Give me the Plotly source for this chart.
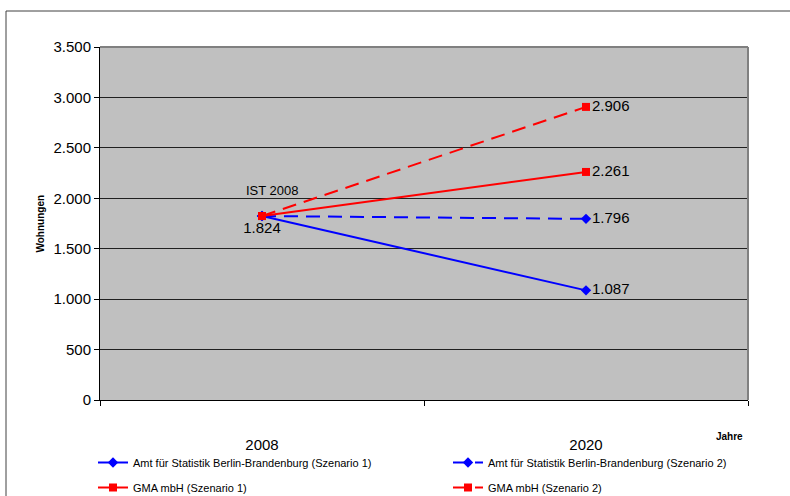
import plotly.graph_objects as go

years = ["2008", "2020"]
amt_s1 = [1824, 1087]
amt_s2 = [1824, 1796]
gma_s1 = [1824, 2261]
gma_s2 = [1824, 2906]
y_ticks = [0, 500, 1000, 1500, 2000, 2500, 3000, 3500]

FONT = "Arial, Liberation Sans, sans-serif"
BLUE = "#0000FF"
RED = "#FF0000"

W, H = 790, 496
L, R, T, B = 100, 42, 47, 96
PW, PH = W - L - R, H - T - B


def px_x(px):
    return (px - L) / PW


def px_y(py):
    return (H - B - py) / PH


def fmt(v):
    return f"{v:,}".replace(",", ".")


fig = go.Figure()

fig.add_trace(go.Scatter(
    x=years, y=amt_s1, mode="lines+markers+text",
    name="Amt für Statistik Berlin-Brandenburg (Szenario 1)",
    line=dict(color=BLUE, width=2),
    marker=dict(symbol="diamond", size=8, color=BLUE),
    text=["", fmt(amt_s1[1])], textposition="middle right",
    textfont=dict(family=FONT, size=15, color="black"),
    legend="legend", legendgroup="a1",
))
fig.add_trace(go.Scatter(
    x=years, y=amt_s2, mode="lines+markers+text",
    name="Amt für Statistik Berlin-Brandenburg (Szenario 2)",
    line=dict(color=BLUE, width=2, dash="14px,8px"),
    marker=dict(symbol="diamond", size=8, color=BLUE),
    text=["", fmt(amt_s2[1])], textposition="middle right",
    textfont=dict(family=FONT, size=15, color="black"),
    legend="legend2", legendgroup="a2",
))
fig.add_trace(go.Scatter(
    x=years, y=gma_s1, mode="lines+markers+text",
    name="GMA mbH (Szenario 1)",
    line=dict(color=RED, width=2),
    marker=dict(symbol="square", size=8, color=RED),
    text=[fmt(gma_s1[0]), fmt(gma_s1[1])],
    textposition=["bottom center", "middle right"],
    textfont=dict(family=FONT, size=15, color="black"),
    legend="legend", legendgroup="g1",
))
fig.add_trace(go.Scatter(
    x=years, y=gma_s2, mode="lines+markers+text",
    name="GMA mbH (Szenario 2)",
    line=dict(color=RED, width=2, dash="14px,8px"),
    marker=dict(symbol="square", size=8, color=RED),
    text=["", fmt(gma_s2[1])], textposition="middle right",
    textfont=dict(family=FONT, size=15, color="black"),
    legend="legend2", legendgroup="g2",
))

legend_common = dict(
    orientation="v", yanchor="top", xanchor="left",
    font=dict(family=FONT, size=11, color="black"),
    bgcolor="rgba(0,0,0,0)", tracegroupgap=6, itemwidth=30,
)

fig.update_layout(
    width=W, height=H,
    margin=dict(l=L, r=R, t=T, b=B, autoexpand=False),
    paper_bgcolor="white",
    plot_bgcolor="#C0C0C0",
    separators=",.",
    font=dict(family=FONT, size=15, color="black"),
    showlegend=True,
    legend=dict(x=px_x(93), y=px_y(448), **legend_common),
    legend2=dict(x=px_x(448), y=px_y(448), **legend_common),
    xaxis=dict(
        type="category", range=[-0.5, 1.5],
        tickson="boundaries", ticks="outside", ticklen=5, tickcolor="black",
        showline=True, linecolor="black", linewidth=1,
        showgrid=False, zeroline=False,
        tickfont=dict(family=FONT, size=15, color="black"),
        ticklabelstandoff=31,
    ),
    yaxis=dict(
        range=[0, 3500], tickvals=y_ticks, tickformat=",d",
        ticks="outside", ticklen=5, tickcolor="black",
        showline=True, linecolor="black", linewidth=1,
        showgrid=True, gridcolor="#202020", gridwidth=1,
        zeroline=False,
        tickfont=dict(family=FONT, size=15, color="black"),
    ),
    shapes=[
        dict(type="rect", xref="paper", yref="paper",
             x0=px_x(6), x1=px_x(W + 10), y0=px_y(H + 10), y1=px_y(11),
             line=dict(color="#404040", width=1), fillcolor="rgba(0,0,0,0)",
             layer="below"),
        dict(type="line", xref="paper", yref="paper", x0=0, x1=1, y0=1, y1=1,
             line=dict(color="#808080", width=2), layer="above"),
        dict(type="line", xref="paper", yref="paper", x0=1, x1=1, y0=0, y1=1,
             line=dict(color="#808080", width=2), layer="above"),
    ],
    annotations=[
        dict(text="<b>Wohnungen</b>", xref="paper", yref="paper",
             x=px_x(40), y=0.5, xanchor="center", yanchor="middle",
             textangle=-90, showarrow=False,
             font=dict(family=FONT, size=10, color="black")),
        dict(text="<b>Jahre</b>", xref="paper", yref="paper",
             x=px_x(729), y=px_y(436), xanchor="center", yanchor="middle",
             showarrow=False,
             font=dict(family=FONT, size=10, color="black")),
        dict(text="IST 2008", x=years.index("2008"), y=gma_s2[0],
             xref="x", yref="y",
             xshift=10, yshift=26, showarrow=False,
             font=dict(family=FONT, size=13, color="black")),
    ],
)

fig.write_html("out.html",
               config={"displayModeBar": False},
               post_script="document.body.style.margin='0';"
                           "document.body.style.overflow='hidden';")
